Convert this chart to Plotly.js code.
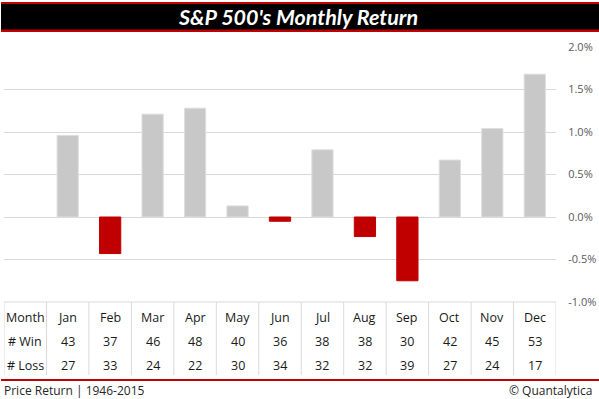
<!DOCTYPE html>
<html>
<head>
<meta charset="utf-8">
<script src="https://cdn.plot.ly/plotly-3.0.1.min.js"></script>
<style>html,body{margin:0;padding:0;background:#fff;}#chart{width:599px;height:399px;}</style>
</head>
<body>
<div id="chart"></div>
<script>
// Data
const months = ["Jan","Feb","Mar","Apr","May","Jun","Jul","Aug","Sep","Oct","Nov","Dec"];
const avgReturn = [0.96, -0.43, 1.21, 1.28, 0.13, -0.05, 0.79, -0.23, -0.75, 0.67, 1.04, 1.68];
const wins = [43, 37, 46, 48, 40, 36, 38, 38, 30, 42, 45, 53];
const losses = [27, 33, 24, 22, 30, 34, 32, 32, 39, 27, 24, 17];
const rowLabels = ["Month", "# Win", "# Loss"];
const yTicks = [-1.0, -0.5, 0.0, 0.5, 1.0, 1.5, 2.0];
const titleText = "S&P 500's Monthly Return";
const footLeft = "Price Return | 1946-2015";
const footRight = "© Quantalytica";

// geometry helpers (pixels -> paper)
const L = 4, T = 47, W = 552.5, H = 255;
const px = p => (p - L) / W;
const py = p => (T + H - p) / H;

const RED = "#c00000", GRAY = "#c8c8c8";
const colors = avgReturn.map(v => v < 0 ? RED : GRAY);
const lineColors = avgReturn.map(v => v < 0 ? RED : "#dedede");

const trace = {
  type: "bar",
  x: months.map((m, i) => i),
  y: avgReturn,
  marker: {color: colors, line: {color: lineColors, width: 1}},
  hoverinfo: "skip"
};

const tableFont = {family: "Open Sans, sans-serif", size: 12.5, color: "#1a1a1a"};
const annotations = [];
const rowY = [py(317.7), py(341.2), py(365.3)];
rowLabels.forEach((r, k) => annotations.push({xref: "x", yref: "paper", x: -1, y: rowY[k], text: r, showarrow: false, font: tableFont, xanchor: "center", yanchor: "middle"}));
months.forEach((m, i) => {
  annotations.push({xref: "x", yref: "paper", x: i, y: rowY[0], text: m, showarrow: false, font: tableFont, yanchor: "middle"});
  annotations.push({xref: "x", yref: "paper", x: i, y: rowY[1], text: String(wins[i]), showarrow: false, font: tableFont, yanchor: "middle"});
  annotations.push({xref: "x", yref: "paper", x: i, y: rowY[2], text: String(losses[i]), showarrow: false, font: tableFont, yanchor: "middle"});
});
annotations.push({xref: "paper", yref: "paper", x: px(298), y: py(17), text: "<b><i>" + titleText.replace("&", "&amp;") + "</i></b>", showarrow: false,
  font: {family: "Lato, sans-serif", size: 21.5, color: "#ffffff"}, xanchor: "center", yanchor: "middle"});
annotations.push({xref: "paper", yref: "paper", x: px(2), y: py(390), text: footLeft, showarrow: false,
  font: {family: "Open Sans, sans-serif", size: 12, color: "#262626"}, xanchor: "left", yanchor: "middle"});
annotations.push({xref: "paper", yref: "paper", x: px(596), y: py(390), text: footRight, showarrow: false,
  font: {family: "Open Sans, sans-serif", size: 12, color: "#262626"}, xanchor: "right", yanchor: "middle"});

const shapes = [];
// title bar
shapes.push({type: "rect", xref: "paper", yref: "paper", x0: px(1), x1: px(600), y0: py(32), y1: py(2), fillcolor: RED, line: {width: 0}, layer: "above"});
shapes.push({type: "rect", xref: "paper", yref: "paper", x0: px(1), x1: px(600), y0: py(29.5), y1: py(4), fillcolor: "#000000", line: {width: 0}, layer: "above"});
// footer red line
shapes.push({type: "line", xref: "paper", yref: "paper", x0: px(1), x1: px(600), y0: py(380), y1: py(380), line: {color: RED, width: 2}});
// table borders
for (let i = -1; i <= 12; i++) {
  shapes.push({type: "line", xref: "x", yref: "paper", x0: i - 0.5, x1: i - 0.5, y0: 0, y1: py(375), line: {color: "#d9d9d9", width: 1}});
}
shapes.push({type: "line", xref: "x", yref: "paper", x0: -1.5, x1: 11.5, y0: 0, y1: 0, line: {color: "#d9d9d9", width: 1}});

const layout = {
  width: 599, height: 399,
  margin: {l: L, r: 599 - L - W, t: T, b: 399 - T - H, pad: 0},
  paper_bgcolor: "#ffffff", plot_bgcolor: "#ffffff",
  showlegend: false,
  bargap: 0.5,
  xaxis: {type: "linear", range: [-1.5, 11.5], showticklabels: false, showgrid: false, zeroline: false, showline: false, fixedrange: true},
  yaxis: {side: "right", range: [-1, 2], tickvals: yTicks, ticktext: yTicks.map(v => v.toFixed(1) + "%"),
    gridcolor: "#d9d9d9", gridwidth: 1, zeroline: false, showline: false,
    ticks: "outside", ticklen: 9, tickcolor: "rgba(0,0,0,0)",
    tickfont: {family: "Open Sans, sans-serif", size: 11, color: "#595959"}, fixedrange: true},
  annotations: annotations,
  shapes: shapes
};

Plotly.newPlot("chart", [trace], layout, {displayModeBar: false, staticPlot: true});
</script>
</body>
</html>
